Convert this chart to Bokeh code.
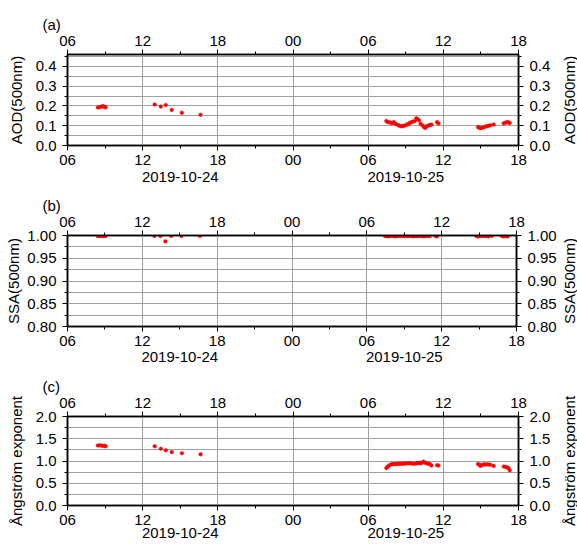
import math
from bokeh.plotting import figure
from bokeh.layouts import column, row
from bokeh.models import LinearAxis, FixedTicker, Range1d, Title, PrintfTickFormatter
from bokeh.embed import file_html
from bokeh.resources import INLINE

FONT = "Liberation Sans"

# ---------------- data (decimal hours of the day) ----------------
oct24_hours = [8.42, 8.55, 8.68, 8.82, 8.95, 9.05, 12.96, 13.45, 13.85, 14.32, 15.13, 16.62]
oct24_aod = [0.192, 0.193, 0.196, 0.199, 0.195, 0.193, 0.207, 0.197, 0.205, 0.180, 0.165, 0.155]
oct24_ssa = [0.999, 0.999, 0.999, 0.999, 0.999, 0.999, 0.999, 0.999, 0.987, 0.999, 0.999, 0.999]
oct24_ae = [1.35, 1.35, 1.35, 1.34, 1.34, 1.33, 1.33, 1.275, 1.24, 1.20, 1.175, 1.15]

oct25_hours = [7.45, 7.55, 7.68, 7.80, 7.92, 8.05, 8.18, 8.30, 8.42, 8.55, 8.68, 8.80,
               8.93, 9.05, 9.18, 9.30, 9.42, 9.55, 9.72, 9.85, 9.95, 10.05, 10.18, 10.30,
               10.42, 10.55, 10.68, 10.80, 10.92, 11.05, 11.50, 11.62,
               14.77, 14.87, 14.96, 15.08, 15.22, 15.35, 15.49, 15.62, 15.76, 16.02,
               16.82, 16.95, 17.09, 17.20, 17.30]
oct25_aod = [0.124, 0.119, 0.117, 0.115, 0.113, 0.118, 0.110, 0.106, 0.102, 0.098, 0.097, 0.099,
             0.101, 0.104, 0.108, 0.113, 0.117, 0.120, 0.124, 0.138, 0.133, 0.128, 0.110, 0.104,
             0.095, 0.089, 0.097, 0.101, 0.103, 0.106, 0.118, 0.111,
             0.093, 0.090, 0.088, 0.089, 0.092, 0.095, 0.098, 0.100, 0.102, 0.106,
             0.112, 0.115, 0.118, 0.117, 0.114]
oct25_ssa = [0.999, 0.999, 0.998, 0.999, 0.999, 0.999, 0.999, 0.998, 0.999, 0.999, 0.999, 0.999,
             0.999, 0.999, 0.999, 0.999, 0.999, 0.999, 0.998, 0.999, 0.999, 0.999, 0.999, 0.999,
             0.999, 0.998, 0.999, 0.999, 0.999, 0.999, 0.999, 0.998,
             0.999, 0.999, 0.998, 0.999, 0.999, 0.999, 0.999, 0.999, 0.998, 0.999,
             0.999, 0.998, 0.999, 0.999, 0.998]
oct25_ae = [0.84, 0.87, 0.90, 0.92, 0.93, 0.93, 0.93, 0.935, 0.935, 0.94, 0.94, 0.94,
            0.945, 0.945, 0.95, 0.95, 0.95, 0.94, 0.94, 0.95, 0.955, 0.955, 0.95, 0.96,
            0.985, 0.96, 0.95, 0.94, 0.93, 0.90, 0.905, 0.90,
            0.93, 0.92, 0.89, 0.91, 0.925, 0.92, 0.925, 0.92, 0.915, 0.89,
            0.875, 0.87, 0.855, 0.84, 0.79]

# time axis: hours since 2019-10-24 00:00
x_start, x_end = 6, 42
x_major = [6, 12, 18, 24, 30, 36, 42]
x_major_labels = ["06", "12", "18", "00", "06", "12", "18"]
x_minor = [9, 15, 21, 27, 33, 39]
date_labels = ["2019-10-24", "2019-10-25"]
date_pos = [(x_start + 24) / 2, (24 + x_end) / 2]

x_all = oct24_hours + [h + 24 for h in oct25_hours]

panels = [
    dict(tag="(a)", ylabel="AOD(500nm)", y=oct24_aod + oct25_aod, yr=(0.0, 0.46),
         major=[0.0, 0.1, 0.2, 0.3, 0.4], minor=[0.05, 0.15, 0.25, 0.35, 0.45], fmt="%.1f",
         height=192, top=54, bottom=47, date_standoff=4, lab_standoff=8),
    dict(tag="(b)", ylabel="SSA(500nm)", y=oct24_ssa + oct25_ssa, yr=(0.80, 1.00),
         major=[0.80, 0.85, 0.90, 0.95, 1.00], minor=[0.825, 0.875, 0.925, 0.975], fmt="%.2f",
         height=181, top=43, bottom=47, date_standoff=3, lab_standoff=2),
    dict(tag="(c)", ylabel="Ångström exponent", y=oct24_ae + oct25_ae, yr=(0.0, 2.0),
         major=[0.0, 0.5, 1.0, 1.5, 2.0], minor=[0.25, 0.75, 1.25, 1.75], fmt="%.1f",
         height=176, top=43, bottom=44, date_standoff=0, lab_standoff=8),
]

LEFT, MAIN_W, SIDE_W = 67, 559, 18
RIGHT = MAIN_W - 518
FS = "15px"
GRID = "#a0a0a0"


def style_axis(ax):
    ax.axis_line_color = "black"
    ax.axis_line_width = 1.5
    ax.major_tick_line_color = "black"
    ax.minor_tick_line_color = "black"
    ax.major_tick_out = 5
    ax.major_tick_in = 0
    ax.minor_tick_out = 3
    ax.minor_tick_in = 0
    ax.major_label_standoff = 4
    ax.major_label_text_font = FONT
    ax.major_label_text_font_size = FS
    ax.major_label_text_color = "black"
    ax.axis_label_text_font = FONT
    ax.axis_label_text_font_size = FS
    ax.axis_label_text_font_style = "normal"
    ax.axis_label_text_color = "black"


rows = []
for pn in panels:
    H = pn["height"]
    p = figure(width=MAIN_W, height=H, output_backend="svg", toolbar_location=None,
               tools="", x_range=Range1d(x_start, x_end), y_range=Range1d(*pn["yr"]),
               min_border_left=LEFT, min_border_right=RIGHT,
               min_border_top=pn["top"], min_border_bottom=pn["bottom"])
    p.outline_line_color = "black"
    p.outline_line_width = 1.5
    p.background_fill_color = "white"
    p.border_fill_color = "white"

    xt = FixedTicker(ticks=x_major, minor_ticks=x_minor)
    yt = FixedTicker(ticks=pn["major"], minor_ticks=pn["minor"])
    overrides = {t: l for t, l in zip(x_major, x_major_labels)}

    # bottom axis
    xb = p.xaxis[0]
    xb.ticker = xt
    xb.major_label_overrides = overrides
    style_axis(xb)

    # left axis
    yl = p.yaxis[0]
    yl.ticker = yt
    yl.formatter = PrintfTickFormatter(format=pn["fmt"])
    yl.axis_label = pn["ylabel"]
    style_axis(yl)
    yl.major_label_standoff = 6
    yl.axis_label_standoff = pn["lab_standoff"]

    # top axis
    xtop = LinearAxis(ticker=FixedTicker(ticks=x_major, minor_ticks=x_minor),
                      major_label_overrides=dict(overrides))
    style_axis(xtop)
    p.add_layout(xtop, "above")

    # panel tag as a title above the top axis
    p.add_layout(Title(text=pn["tag"], align="left", offset=-25, standoff=0,
                       text_font=FONT, text_font_size=FS, text_font_style="normal",
                       text_color="black"), "above")

    # right axis (ticks and numbers; its name is carried by the side strip)
    yr = LinearAxis(ticker=FixedTicker(ticks=pn["major"], minor_ticks=pn["minor"]),
                    formatter=PrintfTickFormatter(format=pn["fmt"]))
    style_axis(yr)
    yr.major_label_standoff = 6
    p.add_layout(yr, "right")

    # date axis below
    xd = LinearAxis(ticker=FixedTicker(ticks=date_pos, minor_ticks=[]),
                    major_label_overrides={t: l for t, l in zip(date_pos, date_labels)})
    style_axis(xd)
    xd.axis_line_color = None
    xd.major_tick_out = 0
    xd.minor_tick_out = 0
    xd.major_tick_line_color = None
    xd.minor_tick_line_color = None
    xd.major_label_standoff = pn["date_standoff"]
    p.add_layout(xd, "below")

    # grids
    p.xgrid.ticker = FixedTicker(ticks=x_major)
    p.xgrid.grid_line_color = GRID
    p.xgrid.grid_line_width = 1
    p.ygrid.ticker = FixedTicker(ticks=pn["major"], minor_ticks=pn["minor"])
    p.ygrid.grid_line_color = GRID
    p.ygrid.grid_line_width = 1
    p.ygrid.minor_grid_line_color = GRID
    p.ygrid.minor_grid_line_width = 1

    p.scatter(x_all, pn["y"], size=3.6, fill_color="red", line_color="red", line_width=0.5)

    # side strip: an axis whose only content is the right-hand name (reads bottom to top)
    side = figure(width=SIDE_W, height=H, output_backend="svg", toolbar_location=None,
                  tools="", x_range=Range1d(0, 1), y_range=Range1d(*pn["yr"]),
                  x_axis_type=None, y_axis_type=None,
                  min_border_left=SIDE_W - 1, min_border_right=0,
                  min_border_top=pn["top"], min_border_bottom=pn["bottom"])
    side.grid.visible = False
    side.outline_line_color = None
    side.background_fill_color = "white"
    side.border_fill_color = "white"
    sa = LinearAxis(ticker=FixedTicker(ticks=[], minor_ticks=[]), axis_label=pn["ylabel"])
    style_axis(sa)
    sa.axis_line_color = None
    sa.major_tick_out = 0
    sa.minor_tick_out = 0
    sa.major_tick_line_color = None
    sa.minor_tick_line_color = None
    sa.major_label_standoff = 0
    sa.axis_label_standoff = 0
    side.add_layout(sa, "left")

    rows.append(row(p, side, spacing=0))

layout = column(*rows, spacing=0)
open("out.html", "w").write(file_html(layout, INLINE))
